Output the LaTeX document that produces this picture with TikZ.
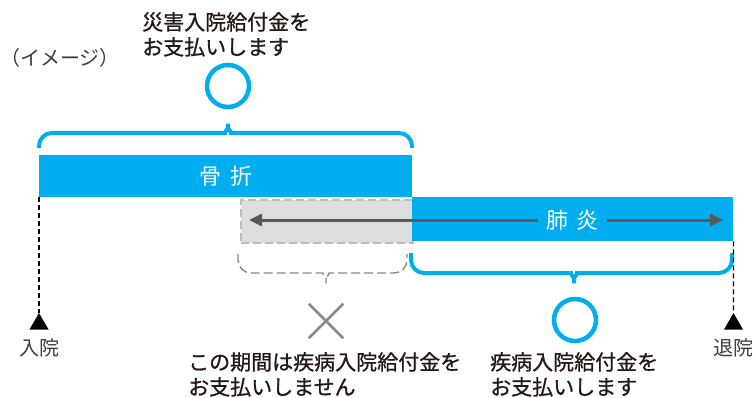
\documentclass[tikz,border=0pt]{standalone}
\usepackage{fontspec}
\setmainfont{Noto Sans CJK JP}
\newfontfamily\medjp{Noto Sans CJK JP}[BoldFont=Noto Sans CJK JP,BoldFeatures={FakeBold=0.9}]
\usetikzlibrary{positioning,arrows.meta,shapes.geometric,shapes.misc}
\definecolor{skyblue}{HTML}{00AEEF}
\definecolor{ink}{HTML}{231815}
\definecolor{softgray}{HTML}{DCDDDE}
\definecolor{midgray}{HTML}{898989}
\definecolor{darkgray}{HTML}{595757}

\begin{document}
\begin{tikzpicture}[x=1pt,y=-1pt,
bar/.style={fill=skyblue,text=white,inner sep=0pt,minimum height=42pt,anchor=north west,font=\fontsize{22}{22}\selectfont},
okmark/.style={circle,draw=skyblue,line width=4.5pt,minimum size=42pt,inner sep=0pt},
ngmark/.style={cross out,draw=midgray,line width=2.5pt,minimum size=32pt,inner sep=0pt},
brace/.style={draw=skyblue,line width=4pt,rounded corners=13pt},
note/.style={align=left,anchor=north west,inner sep=0pt,text=ink,font=\medjp\bfseries\fontsize{21}{25}\selectfont},
pin/.style={regular polygon,regular polygon sides=3,fill=black,minimum size=22pt,inner sep=0pt},
daylabel/.style={text=ink!85,font=\fontsize{20}{20}\selectfont,inner sep=0pt}]
\useasboundingbox (0,0) rectangle (754,398);
\node[text=ink!85,font=\fontsize{20}{20}\selectfont,inner sep=0pt,anchor=west] (image) at (0,58) {（イメージ）};
\node[note] (paid) at (142,12) {災害入院給付金を\\お支払いします};
\node[okmark] (okA) at (228,86) {};
\node[bar,minimum width=373pt] (bone) at (39,155) {骨\hspace{0.4em}折};
\node[fill=softgray,draw=softgray!85!black,dash pattern=on 8pt off 4pt,line width=2.5pt,minimum width=172pt,minimum height=43pt,inner sep=0pt,anchor=north west] (overlap) at (239.5,198.5) {};
\node[bar,minimum width=321pt,minimum height=44pt] (lung) at (412,197) {};
\coordinate (from) at (249,220);
\coordinate (to) at (723,220);
\draw[darkgray,line width=3pt,{Triangle[length=13pt,width=12pt]}-{Triangle[length=13pt,width=12pt]}] (from) -- (to);
\node[fill=skyblue,text=white,inner xsep=8pt,inner ysep=2pt,font=\fontsize{22}{22}\selectfont] (lungtext) at (572.5,220) {肺\hspace{0.4em}炎};
\draw[brace] (39,148) -- (39,133) -- (212,133) .. controls (224,133) and (228,128) .. (228,116)
  .. controls (228,128) and (232,133) .. (244,133) -- (412,133) -- (412,148);
\draw[draw=midgray,line width=1.4pt,rounded corners=13pt,dash pattern=on 9pt off 4pt] (238,254) -- (238,273) -- (310,273) .. controls (322,273) and (326,278) .. (326,291)
  .. controls (326,278) and (330,273) .. (342,273) -- (407,273) -- (407,254);
\draw[brace] (411,253) -- (411,273) -- (558,273) .. controls (570,273) and (574,278) .. (574,291)
  .. controls (574,278) and (578,273) .. (590,273) -- (732,273) -- (732,253);
\node[ngmark] (ng) at (326,321) {};
\node[okmark] (okB) at (575,320) {};
\node[note] (notpaid) at (188,352) {この期間は疾病入院給付金を\\お支払いしません};
\node[note] (paidB) at (490,352) {疾病入院給付金を\\お支払いします};
\node[pin] (inpin) at (39,324) {};
\node[pin] (outpin) at (733.5,324) {};
\node[daylabel] (in) at (39,348) {入院};
\node[daylabel] (out) at (733,348) {退院};
\draw[line width=1.2pt,dash pattern=on 5pt off 3pt] (bone.south west) -- (inpin.north);
\draw[line width=1.2pt,dash pattern=on 5pt off 3pt] (lung.south east) -- (outpin.north);
\end{tikzpicture}
\end{document}
